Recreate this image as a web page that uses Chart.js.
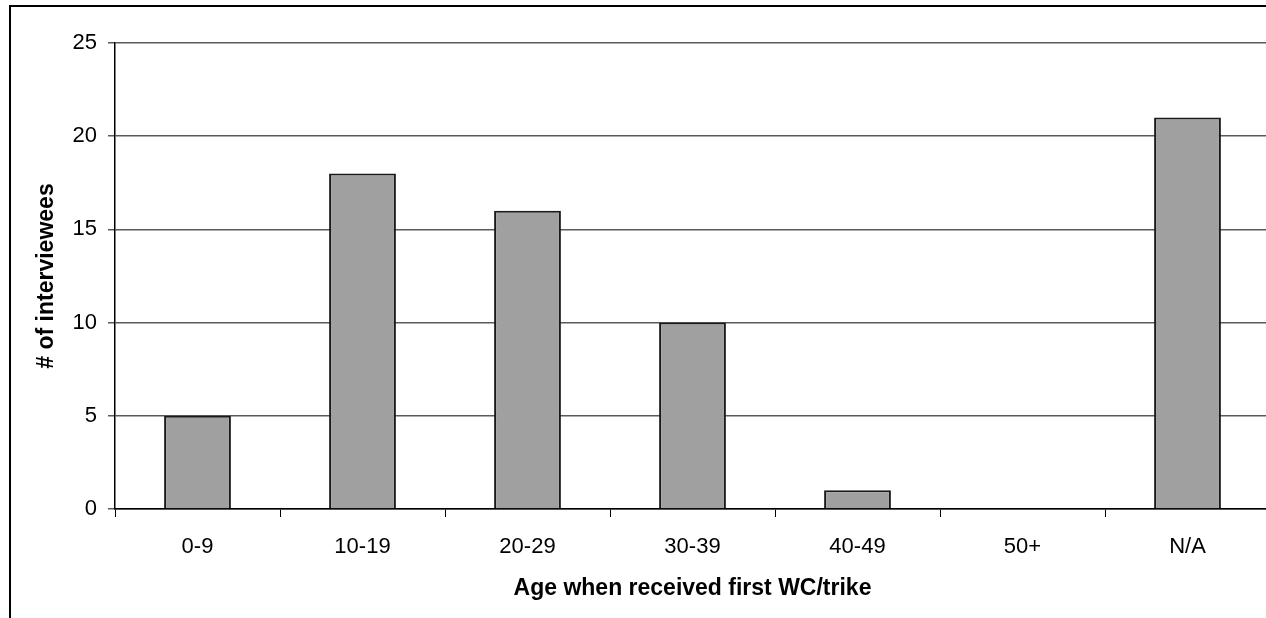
<!DOCTYPE html>
<html>
<head>
<meta charset="utf-8">
<script src="https://cdn.jsdelivr.net/npm/chart.js@4.4.0/dist/chart.umd.min.js"></script>
<style>
    html, body { margin: 0; padding: 0; background: #fff; overflow: hidden; width: 1266px; height: 618px; }
    #frame { position: absolute; left: 9px; top: 5px; width: 2000px; height: 2000px; border-left: 2px solid #000; border-top: 2px solid #000; }
    #wrap { position: absolute; left: 0; top: 0; width: 1300px; height: 618px; }
</style>
</head>
<body>
<div id="frame"></div>
<div id="wrap"><canvas id="barChart_age" width="1300" height="618"></canvas></div>
<script>
const ageGroups = ['0-9', '10-19', '20-29', '30-39', '40-49', '50+', 'N/A'];
const interviewees = [5, 18, 16, 10, 1, 0, 21];
const yTicks = [0, 5, 10, 15, 20, 25];

const fontFamily = '"Liberation Sans", Arial, sans-serif';

let barChartCanvas = document.getElementById('barChart_age').getContext('2d')

new Chart(barChartCanvas, {
    type: 'bar',
    data: {
        labels: ageGroups,
        datasets: [
            {
                label: '# of interviewees',
                backgroundColor: '#a0a0a0',
                borderColor: '#1a1a1a',
                borderWidth: 2,
                barPercentage: 0.405,
                categoryPercentage: 1,
                data: interviewees
            }
        ]
    },
    options: {
        responsive: false,
        animation: false,
        devicePixelRatio: 1,
        layout: { padding: { top: 43, left: 0, right: 30, bottom: 0 } },
        plugins: {
            legend: { display: false },
            tooltip: { enabled: false }
        },
        scales: {
            x: {
                offset: true,
                grid: { offset: true, drawOnChartArea: false, drawTicks: true, tickLength: 8, color: '#000' },
                border: { color: '#000', width: 1.5 },
                ticks: { color: '#000', padding: 17, font: { family: fontFamily, size: 22 } },
                title: {
                    display: true,
                    text: 'Age when received first WC/trike',
                    color: '#000',
                    padding: { top: 0, bottom: 16 },
                    font: { family: fontFamily, size: 23, weight: 'bold' }
                },
                afterFit: (scale) => { scale.height = 109 }
            },
            y: {
                min: 0,
                max: 25,
                afterBuildTicks: (scale) => { scale.ticks = yTicks.map(v => ({ value: v })) },
                grid: { color: '#5a5a5a', lineWidth: 1.5, tickLength: 7 },
                border: { color: '#000', width: 1.5 },
                ticks: { color: '#000', padding: 11, font: { family: fontFamily, size: 22 } },
                title: {
                    display: true,
                    text: '# of interviewees',
                    color: '#000',
                    padding: { top: 33, bottom: 0 },
                    font: { family: fontFamily, size: 23, weight: 'bold' }
                },
                afterFit: (scale) => { scale.width = 115 }
            }
        }
    }
})
</script>
</body>
</html>
